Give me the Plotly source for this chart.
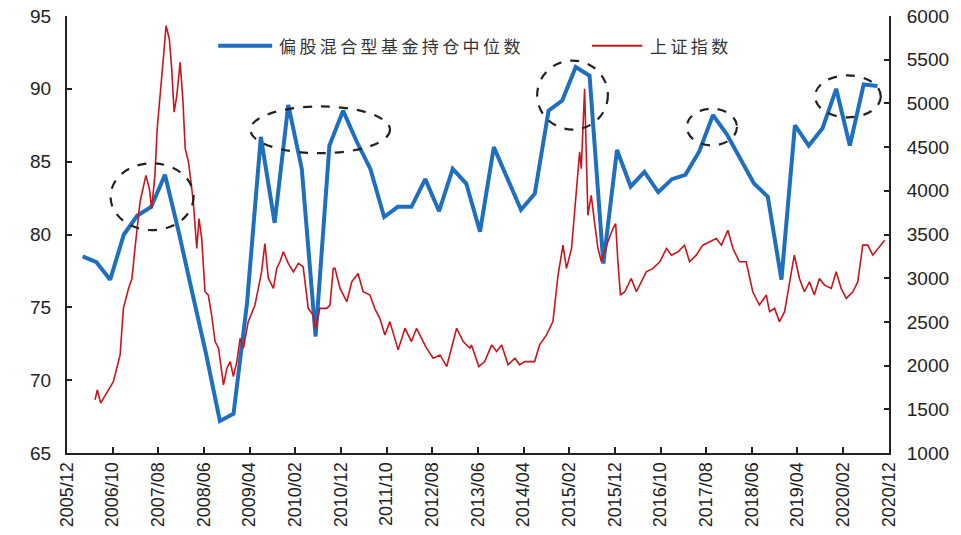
import plotly.graph_objects as go

# ---------------- data ----------------
fund_dates = [
    "2006-03-15", "2006-06-15", "2006-09-15", "2006-12-15",
    "2007-03-15", "2007-06-15", "2007-09-15", "2007-12-15",
    "2008-03-15", "2008-06-15", "2008-09-15", "2008-12-15",
    "2009-03-15", "2009-06-15", "2009-09-15", "2009-12-15",
    "2010-03-15", "2010-06-15", "2010-09-15", "2010-12-15",
    "2011-03-15", "2011-06-15", "2011-09-15", "2011-12-15",
    "2012-03-15", "2012-06-15", "2012-09-15", "2012-12-15",
    "2013-03-15", "2013-06-15", "2013-09-15", "2013-12-15",
    "2014-03-15", "2014-06-15", "2014-09-15", "2014-12-15",
    "2015-03-15", "2015-06-15", "2015-09-15", "2015-12-15",
    "2016-03-15", "2016-06-15", "2016-09-15", "2016-12-15",
    "2017-03-15", "2017-06-15", "2017-09-15", "2017-12-15",
    "2018-03-15", "2018-06-15", "2018-09-15", "2018-12-15",
    "2019-03-15", "2019-06-15", "2019-09-15", "2019-12-15",
    "2020-03-15", "2020-06-15", "2020-09-15",
]
fund_position = [
    78.5, 78.1, 76.9, 80.0,
    81.3, 81.9, 84.1, 80.2,
    76.0, 71.8, 67.2, 67.7,
    75.3, 86.7, 80.8, 88.9,
    84.5, 73.0, 86.1, 88.5,
    86.4, 84.5, 81.2, 81.9,
    81.9, 83.8, 81.6, 84.5,
    83.5, 80.2, 86.0, 83.9,
    81.7, 82.8, 88.5, 89.2,
    91.5, 90.9, 78.0, 85.8,
    83.3, 84.3, 82.9, 83.8,
    84.1, 85.7, 88.2, 86.9,
    85.2, 83.5, 82.6, 76.9,
    87.5, 86.1, 87.3, 90.0,
    86.1, 90.3, 90.2,
]

sh_dates = [
    "2006-06-06", "2006-06-21", "2006-07-13", "2006-08-23", "2006-10-06",
    "2006-11-20", "2006-12-12", "2007-01-15", "2007-02-07", "2007-02-27",
    "2007-04-02", "2007-05-11", "2007-06-03", "2007-06-18", "2007-07-10",
    "2007-07-25", "2007-08-13", "2007-09-04", "2007-09-22", "2007-10-14",
    "2007-10-30", "2007-11-15", "2007-12-03", "2007-12-25", "2008-01-12",
    "2008-01-28", "2008-02-19", "2008-03-22", "2008-04-14", "2008-04-29",
    "2008-05-17", "2008-06-08", "2008-06-30", "2008-07-22", "2008-08-14",
    "2008-09-06", "2008-10-09", "2008-11-01", "2008-11-23", "2008-12-14",
    "2009-01-06", "2009-01-28", "2009-02-19", "2009-03-23", "2009-05-07",
    "2009-06-20", "2009-07-12", "2009-08-04", "2009-09-07", "2009-09-29",
    "2009-10-20", "2009-11-12", "2009-12-15", "2010-01-18", "2010-02-20",
    "2010-03-24", "2010-04-27", "2010-05-30", "2010-06-15", "2010-07-13",
    "2010-08-28", "2010-09-19", "2010-10-11", "2010-10-22", "2010-11-25",
    "2011-01-09", "2011-02-11", "2011-03-25", "2011-04-28", "2011-06-12",
    "2011-07-14", "2011-08-17", "2011-09-20", "2011-10-23", "2011-12-17",
    "2012-02-01", "2012-03-15", "2012-04-18", "2012-06-23", "2012-08-07",
    "2012-09-21", "2012-11-05", "2013-01-10", "2013-02-23", "2013-04-08",
    "2013-04-19", "2013-06-07", "2013-07-16", "2013-09-01", "2013-10-03",
    "2013-11-06", "2013-12-19", "2014-02-03", "2014-03-06", "2014-04-09",
    "2014-06-14", "2014-07-17", "2014-09-01", "2014-10-14", "2014-11-17",
    "2014-12-20", "2015-01-12", "2015-02-15", "2015-03-18", "2015-04-10",
    "2015-04-21", "2015-05-13", "2015-06-04", "2015-06-26", "2015-07-18",
    "2015-08-10", "2015-09-02", "2015-10-15", "2015-11-18", "2015-12-06",
    "2015-12-21", "2016-01-07", "2016-02-05", "2016-03-19", "2016-04-22",
    "2016-05-25", "2016-06-27", "2016-08-11", "2016-09-25", "2016-11-09",
    "2016-12-12", "2017-01-25", "2017-03-09", "2017-04-12", "2017-05-26",
    "2017-07-09", "2017-08-23", "2017-10-07", "2017-11-10", "2017-12-23",
    "2018-01-26", "2018-03-10", "2018-04-24", "2018-06-07", "2018-07-21",
    "2018-09-05", "2018-09-27", "2018-10-30", "2018-12-02", "2019-01-05",
    "2019-02-08", "2019-03-11", "2019-04-14", "2019-05-17", "2019-06-20",
    "2019-07-22", "2019-08-25", "2019-09-28", "2019-11-12", "2019-12-15",
    "2020-01-17", "2020-02-20", "2020-04-04", "2020-05-07", "2020-06-09",
    "2020-07-12", "2020-08-15", "2020-09-18", "2020-11-02",
]
sh_index = [
    1609, 1723, 1571, 1685, 1817,
    2122, 2655, 2883, 2997, 3340,
    3872, 4176, 4025, 3797, 4176,
    4710, 5128, 5509, 5889, 5737,
    5395, 4900, 5090, 5470, 5052,
    4482, 4330, 3872, 3340, 3682,
    3450, 2845, 2807, 2579, 2275,
    2199, 1780, 1970, 2046, 1875,
    2046, 2313, 2199, 2503, 2693,
    3073, 3397, 2997, 2883, 3112,
    3188, 3302, 3169, 3073, 3169,
    3131, 2655, 2579, 2427, 2655,
    2655, 2693, 3112, 3112, 2883,
    2731, 2959, 3054, 2845, 2807,
    2655, 2541, 2351, 2503, 2180,
    2427, 2275, 2427, 2199, 2085,
    2122, 1989, 2427, 2275, 2199,
    2237, 1989, 2046, 2237, 2161,
    2237, 2009, 2085, 2009, 2046,
    2046, 2237, 2351, 2503, 3035,
    3378, 3112, 3340, 3986, 4445,
    4254, 5167, 3720, 3948, 3644,
    3340, 3188, 3416, 3568, 3625,
    3188, 2807, 2845, 2997, 2845,
    2959, 3073, 3112, 3188, 3340,
    3264, 3302, 3378, 3188, 3264,
    3378, 3416, 3454, 3378, 3549,
    3340, 3188, 3188, 2845, 2693,
    2807, 2617, 2655, 2503, 2617,
    2959, 3264, 2997, 2845, 2959,
    2807, 2997, 2921, 2883, 3073,
    2883, 2769, 2845, 2959, 3378,
    3378, 3264, 3340, 3435,
]

name_fund = "偏股混合型基金持仓中位数"
name_index = "上证指数"

BLUE = "#1f6fbf"
RED = "#c8161d"
FONT = "Liberation Sans, Arial, sans-serif"
CJK = "Noto Sans CJK SC, sans-serif"

fig = go.Figure()
fig.add_trace(go.Scatter(x=sh_dates, y=sh_index, name=name_index, yaxis="y2",
                         mode="lines", line=dict(color=RED, width=1.6)))
fig.add_trace(go.Scatter(x=fund_dates, y=fund_position, name=name_fund, yaxis="y",
                         mode="lines", line=dict(color=BLUE, width=4)))

# dashed ellipses (paper coordinates)
ellipses = [
    (0.053, 0.510, 0.154, 0.663),
    (0.223, 0.686, 0.393, 0.793),
    (0.572, 0.740, 0.658, 0.898),
    (0.754, 0.704, 0.815, 0.788),
    (0.910, 0.768, 0.990, 0.864),
]
shapes = []
for x0, y0, x1, y1 in ellipses:
    shapes.append(dict(type="circle", xref="paper", yref="paper",
                       x0=x0, y0=y0, x1=x1, y1=y1,
                       line=dict(color="#222222", width=2.2, dash="dash")))
# manual legend samples
shapes.append(dict(type="line", xref="paper", yref="paper", x0=0.184, x1=0.2496,
                   y0=0.932, y1=0.932, line=dict(color=BLUE, width=4)))
shapes.append(dict(type="line", xref="paper", yref="paper", x0=0.6387, x1=0.6998,
                   y0=0.932, y1=0.932, line=dict(color=RED, width=2)))

annotations = [
    dict(xref="paper", yref="paper", x=0.2557, y=0.932, xanchor="left", yanchor="middle",
         text='<span style="letter-spacing:3.4px">' + name_fund + '</span>',
         showarrow=False, font=dict(family=CJK, size=17, color="#333333")),
    dict(xref="paper", yref="paper", x=0.7066, y=0.932, xanchor="left", yanchor="middle",
         text='<span style="letter-spacing:3.4px">' + name_index + '</span>',
         showarrow=False, font=dict(family=CJK, size=17, color="#333333")),
]

fig.update_layout(
    width=961, height=535,
    margin=dict(l=67, r=72, t=16, b=82),
    paper_bgcolor="white", plot_bgcolor="white",
    showlegend=False,
    shapes=shapes, annotations=annotations,
    xaxis=dict(type="date", range=["2005-12-01", "2020-12-01"],
               tickmode="linear", tick0="2005-12-01", dtick="M10",
               tickformat="%Y/%m", tickangle=-90, automargin=False,
               showgrid=False, zeroline=False,
               showline=True, linecolor="#222222", linewidth=2,
               ticks="inside", ticklen=6, tickcolor="#222222", tickwidth=2,
               tickfont=dict(family=FONT, size=18, color="#222222")),
    yaxis=dict(range=[65, 95], tickmode="linear", tick0=65, dtick=5,
               automargin=False,
               showgrid=False, zeroline=False,
               showline=True, linecolor="#222222", linewidth=2,
               ticks="inside", ticklen=5, tickcolor="#222222", tickwidth=2,
               ticklabelstandoff=10,
               tickfont=dict(family=FONT, size=19, color="#222222")),
    yaxis2=dict(range=[1000, 6000], tickmode="linear", tick0=1000, dtick=500,
                overlaying="y", side="right", automargin=False,
                showgrid=False, zeroline=False,
                showline=True, linecolor="#222222", linewidth=2,
                ticks="inside", ticklen=5, tickcolor="#222222", tickwidth=2,
                ticklabelstandoff=12,
                tickfont=dict(family=FONT, size=19, color="#222222")),
)

fig.write_html("out.html")
